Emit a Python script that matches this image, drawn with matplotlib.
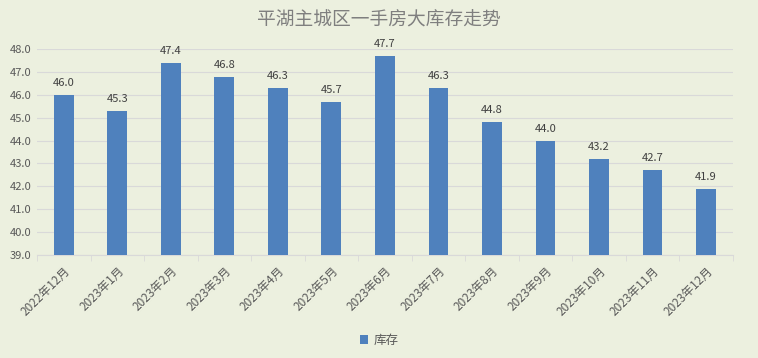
import matplotlib.pyplot as plt
import numpy as np

plt.rcParams['font.family'] = ['Noto Sans CJK SC', 'DejaVu Sans']

months = ["2022年12月", "2023年1月", "2023年2月", "2023年3月", "2023年4月", "2023年5月",
          "2023年6月", "2023年7月", "2023年8月", "2023年9月", "2023年10月", "2023年11月",
          "2023年12月"]
stock = [46.0, 45.3, 47.4, 46.8, 46.3, 45.7, 47.7, 46.3, 44.8, 44.0, 43.2, 42.7, 41.9]

bg = '#ECF0DF'
bar_color = '#4F81BD'
text_color = '#595959'

fig = plt.figure(figsize=(7.58, 3.58), dpi=100, facecolor=bg)
ax = fig.add_axes([0.0488, 0.2877, 0.918, 0.5753], facecolor=bg)

x = np.arange(len(months))
bars = ax.bar(x, stock, width=0.37, color=bar_color, label='库存', zorder=3)

ax.set_ylim(39, 48)
ax.set_xlim(-0.5, len(months) - 0.5)
ax.set_yticks(np.arange(39, 48.5, 1.0))
ax.set_yticklabels([f"{v:.1f}" for v in np.arange(39, 48.5, 1.0)], fontsize=8, color=text_color)
ax.grid(axis='y', color='#D9D9D9', linewidth=0.8, zorder=0)
ax.tick_params(axis='y', length=0, pad=4)

ax.set_xticks(x)
ax.set_xticklabels(months, rotation=45, ha='right', rotation_mode='anchor', fontsize=8.5, color=text_color)
ax.tick_params(axis='x', length=0, pad=7)
ax.set_xticks(np.arange(-0.5, len(months), 1), minor=True)
ax.tick_params(axis='x', which='minor', length=4, color='#D9D9D9')

for s in ['top', 'right', 'left']:
    ax.spines[s].set_visible(False)
ax.spines['bottom'].set_color('#D9D9D9')

for xi, v in zip(x, stock):
    ax.text(xi, v + 0.3, f"{v:.1f}", ha='center', va='bottom', fontsize=8, color='#404040',
            clip_on=False)

fig.text(0.5, 0.945, "平湖主城区一手房大库存走势", ha='center', va='center', fontsize=13.5,
         color='#7F7F7F')

leg = fig.legend(loc='center', bbox_to_anchor=(0.5, 0.05), ncol=1, frameon=False,
                 fontsize=9, handlelength=0.7, handleheight=0.7, handletextpad=0.4,
                 labelcolor=text_color)

fig.savefig('out.png', dpi=100, facecolor=bg)
